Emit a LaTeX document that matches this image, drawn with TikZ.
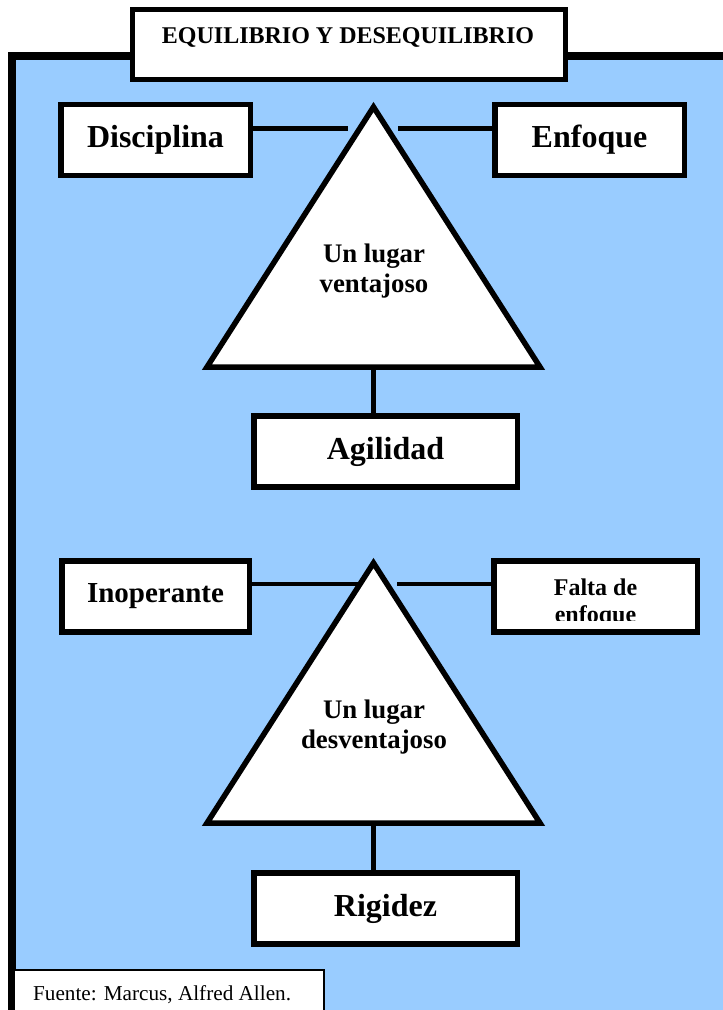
\documentclass[tikz,border=0pt]{standalone}
\usepackage{fontspec}
\setmainfont{Liberation Serif}
\definecolor{panelblue}{RGB}{153,204,255}
\tikzset{
  boxnode/.style={draw, line width=5.5pt, fill=white, inner sep=0pt, minimum width=#1, minimum height=71pt, font=\fontsize{32}{38}\selectfont\bfseries},
  conn/.style={line width=4.5pt},
  tri/.style={draw, line width=5.5pt, fill=white, line join=miter},
  tritext/.style={anchor=base, inner sep=0pt, font=\fontsize{26.8}{31}\selectfont\bfseries},
}
\begin{document}
\begin{tikzpicture}[x=1pt, y=-1pt]
\clip (0,0) rectangle (723,1010);
% blue panel
\draw[line width=7.5pt, fill=panelblue] (12,56) rectangle (780,1060);
% title
\node[draw, line width=5pt, fill=white, minimum width=433pt, minimum height=70pt, inner sep=0pt] (title) at (349,44.5) {};
\node[anchor=base, inner sep=0pt, font=\fontsize{24}{28}\selectfont\bfseries] (titletext) at (348,43) {EQUILIBRIO Y DESEQUILIBRIO};

% ---------- upper group ----------
\node[boxnode=189.5pt] (disc) at (155.5,140) {Disciplina};
\node[boxnode=189.5pt] (enf) at (589.5,140) {Enfoque};
\coordinate (t1a) at (373.5,107);
\coordinate (t1l) at (207,367);
\coordinate (t1r) at (540,367);
\coordinate (t1b) at (373.5,367);
\path[tri] (t1a) -- (t1r) -- (t1l) -- cycle;
\node[tritext] (t1x) at (374,262) {Un lugar};
\node[tritext] (t1y) at (374,292) {ventajoso};
\coordinate (d1) at (348,128.5);
\coordinate (e1) at (398,128.5);
\draw[conn] (d1 -| disc.east) -- (d1);
\draw[conn] (e1) -- (e1 -| enf.west);
\node[boxnode=263.5pt] (agil) at (385.5,451.5) {Agilidad};
\draw[line width=5pt] (t1b) -- (t1b |- agil.north);

% ---------- lower group ----------
\node[boxnode=187.5pt, font=\fontsize{29}{35}\selectfont\bfseries] (inop) at (155.5,596.5) {Inoperante};
\node[boxnode=203.5pt] (falta) at (595.5,596.5) {};
\begin{scope}
  \clip (495,560) rectangle (696,620.5);
  \node[anchor=base, inner sep=0pt, font=\fontsize{24}{28}\selectfont\bfseries] (falta1) at (595.5,595) {Falta de};
  \node[anchor=base, inner sep=0pt, font=\fontsize{24}{28}\selectfont\bfseries] (falta2) at (595.5,622) {enfoque};
\end{scope}
\coordinate (t2a) at (373.5,563);
\coordinate (t2l) at (207,823);
\coordinate (t2r) at (540,823);
\coordinate (t2b) at (373.5,823);
\path[tri] (t2a) -- (t2r) -- (t2l) -- cycle;
\node[tritext] (t2x) at (374,718) {Un lugar};
\node[tritext] (t2y) at (374,748) {desventajoso};
\coordinate (i1) at (359,584);
\coordinate (f1) at (397,584);
\draw[conn] (i1 -| inop.east) -- (i1);
\draw[conn] (f1) -- (f1 -| falta.west);
\node[boxnode=263.5pt] (rig) at (385.5,908.5) {Rigidez};
\draw[line width=5pt] (t2b) -- (t2b |- rig.north);

% ---------- source ----------
\draw[line width=2pt, fill=white] (14,970) rectangle (324,1030);
\node[anchor=base west, inner sep=0pt, font=\fontsize{21.2}{25}\selectfont] (src) at (33,1000) {Fuente: Marcus, Alfred Allen.};
\end{tikzpicture}
\end{document}
